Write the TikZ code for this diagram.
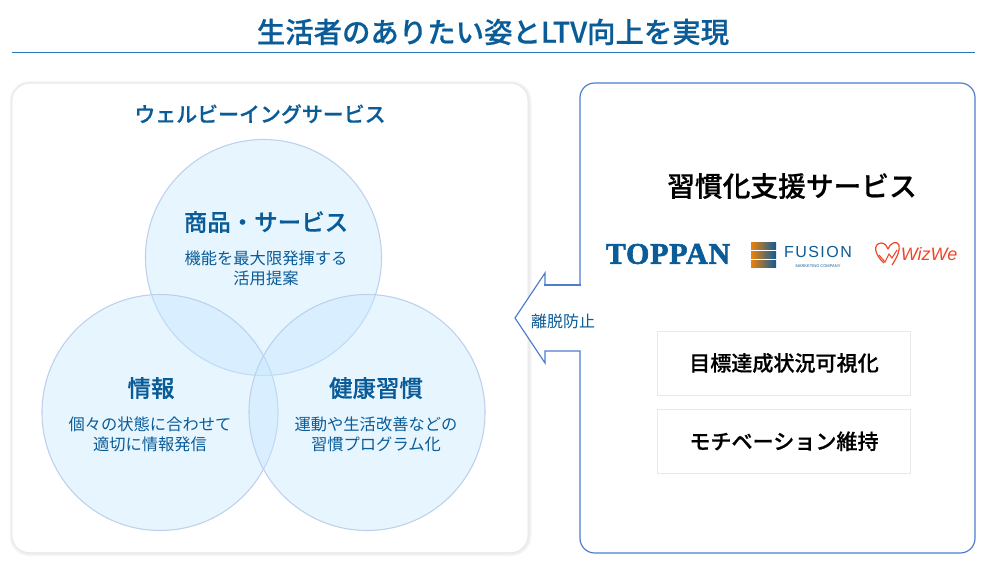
\documentclass[tikz,border=0pt]{standalone}
\usepackage{fontspec}
\setmainfont{Noto Sans CJK JP}[BoldFont={Noto Sans CJK JP Medium},BoldFeatures={FakeBold=.5}]
\newfontfamily\logoserif[BoldFeatures={FakeBold=2},LetterSpace=2.5]{Liberation Serif}
\newfontfamily\logosans[LetterSpace=9]{Liberation Sans}
\newfontfamily\logowiz{Liberation Sans}
\usetikzlibrary{calc,positioning}
\definecolor{tpblue}{RGB}{10,92,152}
\definecolor{tpline}{RGB}{40,120,185}
\definecolor{tpedge}{RGB}{78,125,205}
\definecolor{tpcircle}{RGB}{190,208,235}
\definecolor{tpfill}{RGB}{198,232,255}
\definecolor{tpfade}{RGB}{232,232,232}
\definecolor{tporange}{RGB}{238,128,10}
\definecolor{tpred}{RGB}{240,70,40}
\tikzset{
  vencircle/.style={circle,draw=tpcircle,line width=.8pt,fill=tpfill,fill opacity=.42,minimum size=177pt,inner sep=0pt},
  headtext/.style={font=\fontsize{17.6}{20}\selectfont\bfseries,text=tpblue},
  subtext/.style={font=\fontsize{12.2}{15.2}\selectfont,text=tpblue,align=center},
  goalbox/.style={draw=tpfade,line width=.7pt,fill=white,minimum width=190pt,minimum height=48pt,font=\fontsize{15.8}{18}\selectfont\bfseries},
  panelbox/.style={rounded corners=13pt,minimum width=387pt,minimum height=352pt}
}
\begin{document}
\begin{tikzpicture}[x=.75pt,y=-.75pt]
        \useasboundingbox (0,0) rectangle (986,564);
        \fill[white] (0,0) rectangle (986,564);
        % title
        \node[font=\fontsize{21.3}{24}\selectfont\bfseries,text=tpblue] (title) at (493,32) {生活者のありたい姿とLTV向上を実現};
        \coordinate (ruleL) at (12,52.5);
        \coordinate (ruleR) at (975,52.5);
        \draw[tpline,line width=.9pt] (ruleL)--(ruleR);
        % left panel
        \foreach \w/\c in {4.5/3,3/5,1.6/7}
          \node[panelbox,draw=black!\c,line width=\w pt] at (270.5,318.5) {};
        \node[panelbox,draw=tpfade,line width=.6pt,fill=white] (wellpanel) at (270,318) {};
        \node[font=\fontsize{15.7}{18}\selectfont\bfseries,text=tpblue] (welltitle) at (260,114) {ウェルビーイングサービス};
        \node[vencircle] (circTop) at (263.5,257.5) {};
        \node[vencircle] (circLeft) at (160,412.5) {};
        \node[vencircle] (circRight) at (367,412.5) {};
        \node[headtext] (prodHead) at (266,222) {商品・サービス};
        \node[subtext] (prodText) at (266,268) {機能を最大限発揮する\\活用提案};
        \node[headtext] (infoHead) at (151,388) {情報};
        \node[subtext] (infoText) at (150,434) {個々の状態に合わせて\\適切に情報発信};
        \node[headtext] (healthHead) at (376,388) {健康習慣};
        \node[subtext] (healthText) at (376,434) {運動や生活改善などの\\習慣プログラム化};
        % right panel with arrow
        \coordinate (notchA) at (580,285);
        \coordinate (notchB) at (545,285);
        \draw[tpedge,line width=.9pt,fill=white] (notchB)--(545,273)--(515,318)--(545,363)--(545,351)--(580,351)[rounded corners=11pt]--(580,553)--(975,553)--(975,83)--(580,83)--(notchA);
        \draw[tpedge,line width=.9pt,line cap=rect] (notchA)--(notchB);
        \node[font=\fontsize{12}{14}\selectfont,text=tpblue] (keepLabel) at (563,321) {離脱防止};
        \node[font=\fontsize{20.8}{24}\selectfont\bfseries] (supportTitle) at (792,186) {習慣化支援サービス};
        % logos
        \node[font=\logoserif\fontsize{22.5}{24}\selectfont\bfseries,text=tpblue] (toppan) at (668,254) {TOPPAN};
        \foreach \y in {242.5,251.5,260.5}
          \shade[left color=tporange,middle color=tporange!55!tpblue,right color=tpblue] (751,\y) rectangle (776,\y+6.5);
        \node[font=\logosans\fontsize{12}{14}\selectfont,text=tpblue] (fusion) at (818,252) {FUSION};
        \node[font=\logowiz\fontsize{3}{4}\selectfont,text=tpblue,below=-1.5pt of fusion] (fusionSub) {MARKETING COMPANY};
        \node[font=\logowiz\fontsize{13.5}{18}\selectfont\itshape,text=tpred] (wizwe) at (929,254) {WizWe};
        \draw[tpred,line width=.9pt,line join=round] (884,263)..controls (874,254) and (873,244)..(881,243)..controls (885,243) and (887,246)..(888,249)..controls (890,243) and (897,240)..(899,245)..controls (900,250) and (898,256)..(892,265);
        \draw[tpred,line width=.8pt] (879,255)--(885,262)--(889,254)--(892,258)--(897,250);
        % goal boxes
        \node[goalbox] (goalOne) at (784,363) {目標達成状況可視化};
        \node[goalbox,below=10pt of goalOne] (goalTwo) {モチベーション維持};
      \end{tikzpicture}
\end{document}
